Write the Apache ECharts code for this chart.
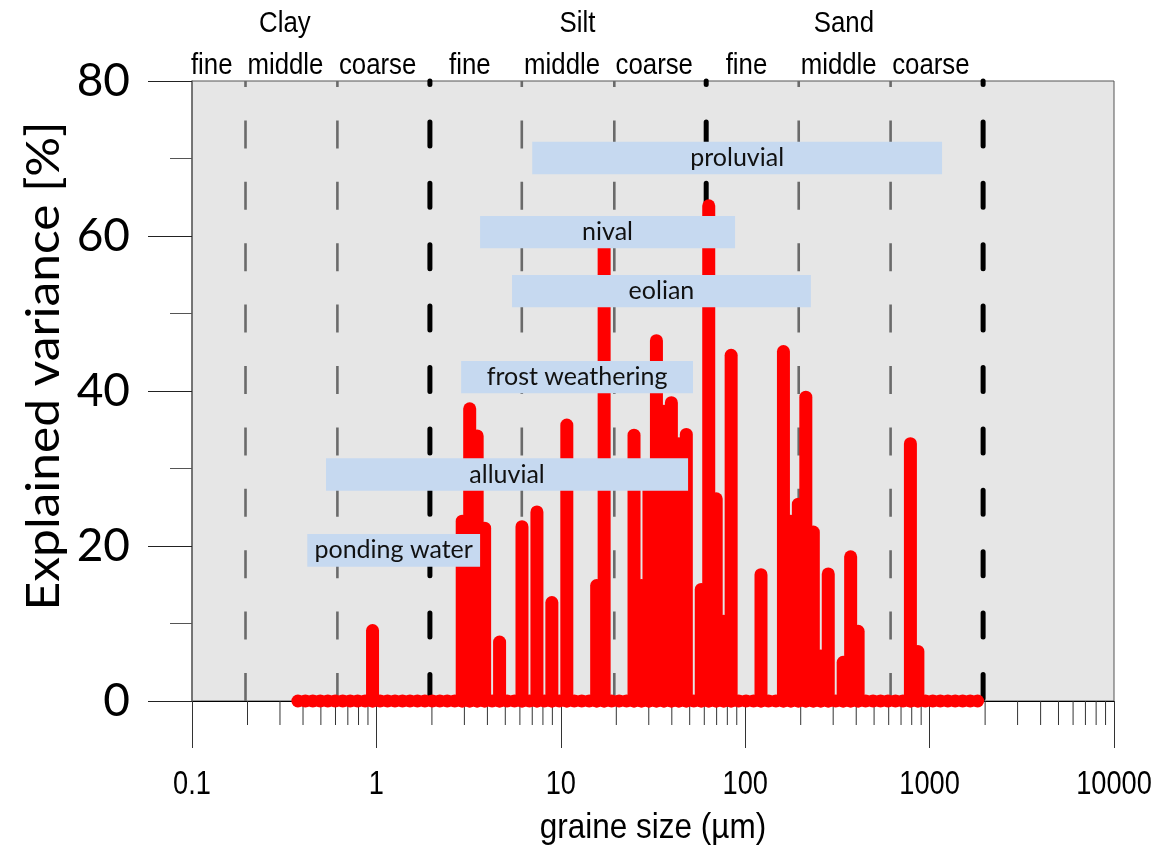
<!DOCTYPE html>
<html>
<head>
<meta charset="utf-8">
<script src="https://cdn.jsdelivr.net/npm/echarts@6.0.0/dist/echarts.min.js"></script>
<style>
html,body{margin:0;padding:0;background:#ffffff;}
#chart{width:1163px;height:851px;}
</style>
</head>
<body>
<div id="chart"></div>
<script>
// ---------------- DATA ----------------
// grain-size channels (µm)
const grainSizes = [
  0.375, 0.412, 0.452, 0.496, 0.545, 0.598, 0.657, 0.721, 0.791, 0.869,
  0.953, 1.047, 1.149, 1.261, 1.385, 1.520, 1.669, 1.832, 2.011, 2.208,
  2.423, 2.660, 2.920, 3.206, 3.519, 3.863, 4.241, 4.656, 5.111, 5.611,
  6.159, 6.761, 7.422, 8.148, 8.944, 9.819, 10.78, 11.83, 12.99, 14.26,
  15.65, 17.18, 18.86, 20.71, 22.73, 24.95, 27.39, 30.07, 33.01, 36.24,
  39.78, 43.67, 47.94, 52.63, 57.77, 63.42, 69.62, 76.43, 83.90, 92.10,
  101.1, 111.0, 121.8, 133.7, 146.8, 161.2, 176.9, 194.2, 213.2, 234.1,
  256.9, 282.1, 309.6, 339.9, 373.1, 409.6, 449.7, 493.6, 541.9, 594.9,
  653.0, 716.9, 786.9, 863.9, 948.3, 1041, 1143, 1255, 1377, 1512,
  1660, 1822
];
// explained variance (%) per channel
const explainedVariance = [
  0, 0, 0, 0, 0, 0, 0, 0, 0, 0,
  9.1, 0, 0, 0, 0, 0, 0, 0, 0, 0,
  0, 0, 23.2, 37.7, 34.2, 22.3, 0, 7.6, 0, 0,
  22.5, 0, 24.4, 0, 12.7, 0, 35.6, 0, 0, 0,
  14.9, 60.0, 0, 0, 0, 34.3, 14.9, 29.0, 46.5, 37.4,
  38.5, 33.2, 34.4, 0, 14.4, 63.9, 26.1, 10.3, 44.6, 0,
  0, 0, 16.3, 0, 0, 45.1, 23.2, 25.4, 39.2, 21.8,
  5.8, 16.4, 0, 5.0, 18.6, 9.0, 0, 0, 0, 0,
  0, 0, 33.2, 6.4, 0, 0, 0, 0, 0, 0,
  0, 0
];
// grain-size class boundaries (µm)
const classBounds = [0.1, 0.2, 0.63, 2, 6.3, 20, 63, 200, 630, 2000];
const majorBounds = [2, 63, 2000];
const minorBounds = [0.2, 0.63, 6.3, 20, 200, 630];
const classLabels = ['fine', 'middle', 'coarse', 'fine', 'middle', 'coarse', 'fine', 'middle', 'coarse'];
const fractionLabels = ['Clay', 'Silt', 'Sand'];
// genetic environments: name, size range (µm), variance band (%)
const envNames = ['proluvial', 'nival', 'eolian', 'frost weathering', 'alluvial', 'ponding water'];
const envFrom  = [7.0, 3.65, 5.44, 2.88, 0.533, 0.422];
const envTo    = [1168, 88.1, 227, 52.1, 49.0, 3.65];
const envLow   = [67.96, 58.41, 50.80, 39.70, 27.14, 17.33];
const envHigh  = [72.17, 62.58, 54.97, 43.87, 31.32, 21.55];
// axis ticks
const xMajorTicks = [0.1, 1, 10, 100, 1000, 10000];
const xTickLabels = ['0.1', '1', '10', '100', '1000', '10000'];
const xMinorTicks = [
  0.2, 0.3, 0.4, 0.5, 0.6, 0.7, 0.8, 0.9,
  2, 3, 4, 5, 6, 7, 8, 9,
  20, 30, 40, 50, 60, 70, 80, 90,
  200, 300, 400, 500, 600, 700, 800, 900,
  2000, 3000, 4000, 5000, 6000, 7000, 8000, 9000
];
const yTicks = [0, 20, 40, 60, 80];
const xTitle = 'graine size (\u00b5m)';
const yTitle = 'Explained variance [%]';

// ---------------- LAYOUT / STYLE ----------------
const fractionLabelAt = [0.319, 12.3, 343];   // label anchors along x (µm)
const SANS = '"Liberation Sans", Arial, sans-serif';
const CAL = 'Lato, "Open Sans", sans-serif';
const NARROW_SCALE = 0.86;

const chart = echarts.init(document.getElementById('chart'), null, {renderer: 'canvas'});

const stemData = grainSizes.map((s, i) => [s, explainedVariance[i]]);
const baseData = grainSizes.map(s => [s, 0]);
const boundData = majorBounds.map(b => [b, 1]).concat(minorBounds.map(b => [b, 0]));
const classData = classLabels.map((n, i) => [Math.sqrt(classBounds[i] * classBounds[i + 1]), 80]);
const fracData = fractionLabels.map((n, i) => [fractionLabelAt[i], 80]);
const envData = envNames.map((n, i) => [envFrom[i], envLow[i], envTo[i], envHigh[i]]);
const minorTickData = xMinorTicks.map(v => [v, 0]);
const majorLabelData = xMajorTicks.map(v => [v, 0]);

const option = {
  animation: false,
  backgroundColor: '#ffffff',
  grid: {
    left: 192, right: 49, top: 81, bottom: 150,
    show: true, backgroundColor: '#e6e6e6', borderColor: '#555555', borderWidth: 1
  },
  graphic: [
    {type: 'text', x: 44, y: 366, rotation: Math.PI / 2, scaleX: 1.08, silent: true,
     style: {text: yTitle, font: '46px ' + CAL, fill: '#000', align: 'center', verticalAlign: 'middle'}},
    {type: 'text', x: 653, y: 828, scaleX: 0.9, silent: true,
     style: {text: xTitle, font: '35px ' + SANS, fill: '#000', align: 'center', verticalAlign: 'middle'}}
  ],
  xAxis: {
    type: 'log', logBase: 10, min: xMajorTicks[0], max: xMajorTicks[xMajorTicks.length - 1],
    axisLine: {show: true, lineStyle: {color: '#000', width: 1.2}},
    axisTick: {show: true, length: 47, lineStyle: {color: '#333', width: 1}},
    axisLabel: {show: false},
    splitLine: {show: false}
  },
  yAxis: {
    type: 'value', min: yTicks[0], max: yTicks[yTicks.length - 1], interval: 20,
    axisLine: {show: true, lineStyle: {color: '#666', width: 1.5}},
    axisTick: {show: true, length: 44, lineStyle: {color: '#222', width: 1}},
    minorTick: {show: true, splitNumber: 2, length: 22, lineStyle: {color: '#555', width: 1}},
    axisLabel: {margin: 62, fontFamily: CAL, fontSize: 46, color: '#000'},
    splitLine: {show: false},
    minorSplitLine: {show: false}
  },
  series: [
    { // class boundary dashed lines
      type: 'custom', z: 1, silent: true, clip: false,
      data: boundData,
      encode: {x: 0},
      renderItem: (params, api) => {
        const b = api.value(0);
        const major = api.value(1) === 1;
        const p0 = api.coord([b, yTicks[0]]);
        const p1 = api.coord([b, yTicks[yTicks.length - 1]]);
        const dx = -2;
        return {
          type: 'line',
          shape: {x1: p0[0] + dx, y1: p0[1], x2: p1[0] + dx, y2: p1[1]},
          style: major
            ? {stroke: '#000', lineWidth: 5, lineDash: [24, 37.4], lineCap: 'round', lineDashOffset: -2.5}
            : {stroke: '#6a6a6a', lineWidth: 2.6, lineDash: [28, 33.4], lineCap: 'butt'}
        };
      }
    },
    { // stems
      type: 'custom', z: 3, silent: true, clip: false,
      data: stemData,
      encode: {x: 0, y: 1},
      renderItem: (params, api) => {
        const v = api.value(1);
        if (!(v > 0)) return null;
        const x = api.value(0);
        const p0 = api.coord([x, 0]);
        const p1 = api.coord([x, v]);
        return {
          type: 'line',
          shape: {x1: p0[0], y1: p0[1], x2: p1[0], y2: p1[1]},
          style: {stroke: '#ff0000', lineWidth: 13, lineCap: 'round'}
        };
      }
    },
    { // baseline with markers
      type: 'line', z: 4, silent: true, clip: false,
      data: baseData,
      symbol: 'circle', symbolSize: 13, showSymbol: true,
      lineStyle: {color: '#ff0000', width: 11},
      itemStyle: {color: '#ff0000', borderWidth: 0}
    },
    { // x minor ticks
      type: 'custom', z: 2, silent: true, clip: false,
      data: minorTickData,
      encode: {x: 0},
      renderItem: (params, api) => {
        const p = api.coord([api.value(0), 0]);
        return {
          type: 'line',
          shape: {x1: p[0], y1: p[1], x2: p[0], y2: p[1] + 24},
          style: {stroke: '#333', lineWidth: 1}
        };
      }
    },
    { // x tick labels
      type: 'custom', z: 2, silent: true, clip: false,
      data: majorLabelData,
      encode: {x: 0},
      renderItem: (params, api) => {
        const p = api.coord([api.value(0), 0]);
        return {
          type: 'text', x: p[0], y: p[1] + 84, scaleX: 0.8,
          style: {text: xTickLabels[params.dataIndex], fill: '#000', font: '34px ' + SANS,
                  align: 'center', verticalAlign: 'middle'}
        };
      }
    },
    { // environment boxes
      type: 'custom', z: 10, silent: true, clip: false,
      data: envData,
      encode: {x: [0, 2], y: [1, 3]},
      renderItem: (params, api) => {
        const a = api.coord([api.value(0), api.value(3)]);
        const b = api.coord([api.value(2), api.value(1)]);
        return {
          type: 'group',
          children: [
            {type: 'rect', shape: {x: a[0], y: a[1], width: b[0] - a[0], height: b[1] - a[1]},
             style: {fill: '#c6d9f0'}},
            {type: 'text', x: (a[0] + b[0]) / 2, y: (a[1] + b[1]) / 2,
             style: {text: envNames[params.dataIndex], fill: '#111', font: '25px ' + CAL,
                     align: 'center', verticalAlign: 'middle'}}
          ]
        };
      }
    },
    { // class labels (fine / middle / coarse)
      type: 'custom', z: 10, silent: true, clip: false,
      data: classData,
      encode: {x: 0},
      renderItem: (params, api) => {
        const p = api.coord([api.value(0), api.value(1)]);
        return {
          type: 'text', x: p[0] - 8, y: p[1] - 15, scaleX: NARROW_SCALE,
          style: {text: classLabels[params.dataIndex], fill: '#000', font: '30px ' + SANS,
                  align: 'center', verticalAlign: 'middle'}
        };
      }
    },
    { // fraction labels (Clay / Silt / Sand)
      type: 'custom', z: 10, silent: true, clip: false,
      data: fracData,
      encode: {x: 0},
      renderItem: (params, api) => {
        const p = api.coord([api.value(0), api.value(1)]);
        return {
          type: 'text', x: p[0], y: p[1] - 57, scaleX: NARROW_SCALE,
          style: {text: fractionLabels[params.dataIndex], fill: '#000', font: '30px ' + SANS,
                  align: 'center', verticalAlign: 'middle'}
        };
      }
    }
  ]
};
chart.setOption(option);
</script>
</body>
</html>
